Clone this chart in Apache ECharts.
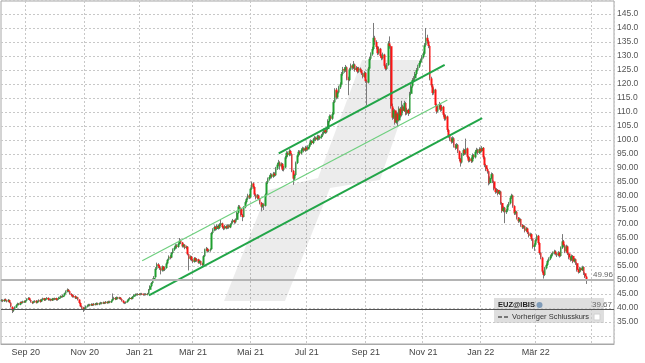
<!DOCTYPE html>
<html><head><meta charset="utf-8">
<script src="https://cdn.jsdelivr.net/npm/echarts@6/dist/echarts.min.js"></script>
<style>html,body{margin:0;padding:0;background:#fff}#c{width:645px;height:363px}</style>
</head><body><div id="c"></div>
<script>
// ---- data (EUZ@IBIS daily) ----
const opens=[
42.6,42.9,42.4,43.1,42.6,42.3,42.8,41.9,40.4,39.1,
39.7,40.2,41.1,41.6,41.2,42.1,41.8,42.4,42.0,42.7,
43.2,43.6,42.9,42.1,41.9,42.2,42.6,41.9,42.4,42.9,
42.3,43.0,43.5,42.8,43.3,43.6,42.9,43.2,42.7,43.4,
43.0,43.5,42.9,43.2,43.8,44.2,43.9,44.5,45.2,45.9,
46.5,46.0,45.0,44.6,44.0,44.3,43.5,43.8,43.0,41.8,
40.6,40.1,39.5,39.9,40.6,40.8,41.2,40.9,41.4,41.0,
41.5,41.2,41.7,41.3,41.6,41.9,41.6,42.0,41.7,42.2,
41.8,42.3,42.0,42.6,43.2,43.6,43.1,43.8,43.4,43.7,
43.2,42.6,42.0,41.8,42.1,42.6,43.2,43.6,43.3,44.0,
44.6,44.9,44.7,45.0,44.8,45.1,44.9,44.7,45.0,44.8,
45.1,46.5,47.8,48.9,50.2,51.0,54.0,55.6,55.0,54.2,
53.4,54.8,53.6,54.3,55.9,57.2,58.3,58.0,59.6,60.8,
61.5,62.3,61.8,62.9,64.0,63.4,62.0,62.6,61.4,61.9,
59.2,57.6,58.4,57.2,56.5,57.8,56.9,57.4,56.2,56.8,
55.8,55.4,58.5,60.8,61.2,60.3,60.6,61.0,66.8,67.9,
68.9,68.2,69.4,68.6,69.8,70.2,68.9,68.4,69.2,68.6,
69.5,68.8,69.9,70.8,71.3,70.6,71.5,74.0,76.2,75.5,
73.2,72.5,76.0,77.8,79.0,80.2,79.5,82.6,84.5,83.2,
80.5,79.4,80.2,79.0,77.6,76.2,77.0,76.5,80.5,84.8,
86.0,86.8,87.6,86.9,88.0,87.4,89.8,91.2,92.0,90.6,
91.5,89.4,90.2,93.8,95.4,94.6,96.1,95.0,89.0,86.2,
87.5,91.8,94.5,95.8,95.2,96.4,97.0,96.2,97.3,96.6,
97.5,98.4,99.6,98.9,100.2,100.8,100.2,101.3,100.6,101.0,
101.6,102.4,103.5,102.8,103.9,106.8,108.5,107.6,109.2,113.5,
118.0,115.2,117.0,118.8,119.9,123.6,125.4,124.8,126.0,122.0,
121.4,125.2,126.6,125.8,127.0,125.0,125.8,124.4,125.5,124.9,
123.8,122.6,124.0,121.0,120.5,125.5,129.0,130.6,132.5,136.5,
135.0,133.2,131.0,132.6,130.0,129.2,130.5,126.5,125.4,126.8,
134.5,133.5,112.0,108.0,110.6,106.2,109.4,107.0,111.2,108.8,
112.0,110.4,113.2,109.5,110.8,109.6,116.5,119.2,121.4,122.0,
123.6,125.0,126.2,127.5,128.4,129.6,130.8,133.8,136.5,135.2,
133.6,122.0,119.5,116.8,118.0,112.5,110.2,111.6,112.4,110.8,
111.9,109.0,107.6,108.4,103.6,101.5,100.4,99.4,100.6,98.0,
97.2,98.3,96.0,93.2,92.0,94.8,96.4,95.2,97.0,94.0,
92.6,93.4,92.4,94.6,93.8,95.8,96.5,95.4,96.8,96.0,
97.2,93.8,91.0,89.6,88.8,84.6,86.4,87.8,85.2,82.6,
81.4,82.2,80.8,81.6,77.5,74.6,75.8,74.2,74.8,76.6,
77.4,79.4,80.2,76.4,73.8,74.4,72.2,71.0,71.8,69.6,
68.8,69.2,67.6,68.4,67.0,65.8,66.4,64.6,61.8,62.6,
64.2,65.8,63.2,59.6,58.0,53.0,51.8,54.2,55.4,56.8,
57.6,58.4,59.2,59.6,60.2,59.4,58.8,59.8,58.6,61.5,
63.8,62.4,60.2,62.0,59.5,58.0,57.2,58.6,56.6,57.4,
56.0,53.6,52.8,54.2,53.5,54.6,52.4,51.2];
const closes=[
42.8,42.5,43.0,42.7,42.4,42.9,42.0,40.5,39.2,39.6,
40.3,41.0,41.5,41.2,42.0,41.8,42.3,42.1,42.6,43.2,
43.5,42.9,42.2,41.8,42.3,42.5,41.9,42.4,42.8,42.2,
43.0,43.4,42.8,43.3,43.6,42.9,43.1,42.7,43.4,43.0,
43.5,42.9,43.2,43.8,44.2,43.9,44.5,45.2,45.9,46.5,
46.0,45.0,44.6,44.0,44.3,43.5,43.8,43.0,41.8,40.6,
40.1,39.5,39.9,40.6,40.8,41.2,40.9,41.4,41.0,41.5,
41.2,41.7,41.3,41.6,41.9,41.6,42.0,41.7,42.2,41.8,
42.3,42.0,42.5,43.2,43.6,43.1,43.8,43.4,43.7,43.2,
42.6,42.0,41.8,42.1,42.6,43.2,43.6,43.3,44.0,44.6,
44.9,44.7,45.0,44.8,45.1,44.9,44.7,45.0,44.8,45.1,
46.5,47.8,48.9,50.2,50.8,54.0,55.6,55.0,54.2,53.4,
54.8,53.6,54.3,55.9,57.2,58.3,58.0,59.6,60.8,61.5,
62.3,61.8,62.9,64.0,63.4,62.0,62.6,61.4,61.9,59.2,
57.6,58.4,57.2,56.5,57.8,56.9,57.4,56.2,56.8,55.8,
55.4,58.5,60.8,61.2,60.3,60.6,60.9,66.8,67.9,68.9,
68.2,69.4,68.6,69.8,70.2,68.9,68.4,69.2,68.6,69.5,
68.8,69.9,70.8,71.3,70.6,71.5,74.0,76.2,75.5,73.2,
72.5,76.0,77.8,79.0,80.2,79.5,82.6,84.5,83.2,80.5,
79.4,80.2,79.0,77.6,76.2,77.0,76.5,80.5,84.8,86.0,
86.8,87.6,86.9,88.0,87.4,89.8,91.2,92.0,90.6,91.5,
89.4,90.2,93.8,95.4,94.6,96.1,95.0,89.0,86.2,87.5,
91.8,94.5,95.8,95.2,96.4,97.0,96.2,97.3,96.6,97.5,
98.4,99.6,98.9,100.2,100.8,100.2,101.3,100.6,101.0,101.6,
102.4,103.5,102.8,103.9,106.8,108.5,107.6,109.2,113.5,117.8,
115.2,117.0,118.8,119.9,123.6,125.4,124.8,126.0,122.0,121.4,
125.2,126.6,125.8,127.0,125.0,125.8,124.4,125.5,124.9,123.8,
122.6,124.0,121.0,120.5,125.5,129.0,130.6,132.5,136.5,135.0,
133.2,131.0,132.6,130.0,129.2,130.5,126.5,125.4,126.8,134.5,
133.5,112.0,108.0,110.6,106.2,109.4,107.0,111.2,108.8,112.0,
110.4,113.2,109.5,110.8,109.6,116.5,119.2,121.4,122.0,123.6,
125.0,126.2,127.5,128.4,129.6,130.8,133.8,136.5,135.2,133.6,
122.0,119.5,116.8,118.0,112.5,110.2,111.6,112.4,110.8,111.9,
109.0,107.6,108.4,103.6,101.5,100.4,99.4,100.6,98.0,97.2,
98.3,96.0,93.2,92.0,94.8,96.4,95.2,97.0,94.0,92.6,
93.4,92.4,94.6,93.8,95.8,96.5,95.4,96.8,96.0,97.2,
93.8,91.0,89.6,88.8,84.6,86.4,87.8,85.2,82.6,81.4,
82.2,80.8,81.6,77.5,74.6,75.8,74.2,74.8,76.6,77.4,
79.4,80.2,76.4,73.8,74.4,72.2,71.0,71.8,69.6,68.8,
69.2,67.6,68.4,67.0,65.8,66.4,64.6,61.8,62.6,64.2,
65.8,63.2,59.6,58.0,53.0,51.8,54.2,55.4,56.8,57.6,
58.4,59.2,59.6,60.2,59.4,58.8,59.8,58.6,61.5,63.8,
62.4,60.2,62.0,59.5,58.0,57.2,58.6,56.6,57.4,56.0,
53.6,52.8,54.2,53.5,54.6,52.4,51.2,49.96];
const lows=[
42.2,42.1,42.2,42.4,42.0,42.1,41.7,40.2,38.2,38.6,
39.3,40.0,40.8,40.9,41.0,41.5,41.6,41.8,41.9,42.5,
42.9,42.6,41.9,41.4,41.6,41.9,41.6,41.7,42.1,41.9,
42.1,42.7,42.5,42.6,43.0,42.6,42.6,42.4,42.5,42.7,
42.8,42.6,42.6,43.0,43.5,43.6,43.7,44.3,45.0,45.6,
45.6,44.8,44.2,43.7,43.7,43.2,43.2,42.7,41.5,40.3,
39.6,38.6,39.1,39.6,40.2,40.5,40.6,40.7,40.7,40.8,
40.9,41.0,41.0,41.0,41.3,41.3,41.4,41.4,41.5,41.5,
41.6,41.7,41.8,42.4,42.9,42.8,42.9,43.1,43.1,42.9,
42.3,41.6,41.4,41.5,41.9,42.4,43.0,43.0,43.1,43.8,
44.3,44.4,44.4,44.5,44.5,44.6,44.4,44.4,44.5,44.5,
45.0,46.3,47.5,48.6,49.8,50.8,53.6,54.3,53.6,52.0,
53.0,53.1,53.2,54.0,55.6,56.9,57.4,57.8,59.2,60.4,
61.1,61.2,61.5,62.6,62.8,61.6,61.6,61.0,61.0,58.8,
53.4,57.0,56.7,56.0,56.2,56.4,56.5,55.8,55.8,55.2,
54.9,55.2,58.2,60.2,59.8,59.9,60.1,60.8,66.3,67.4,
67.6,67.8,68.0,68.2,69.2,68.4,67.8,68.0,68.1,68.2,
68.3,68.5,69.5,70.3,70.1,70.2,71.3,73.7,74.9,72.6,
71.0,72.3,75.6,77.3,78.6,78.9,79.2,82.2,82.6,80.0,
78.8,78.9,78.5,77.0,74.5,75.8,75.0,76.2,80.2,84.3,
85.5,86.3,86.3,86.5,86.9,87.1,89.3,90.6,89.4,90.1,
88.9,88.8,90.0,93.3,94.0,94.2,94.4,88.5,84.0,85.6,
87.2,91.4,94.0,94.6,94.8,95.9,95.6,95.8,96.0,96.2,
97.0,98.0,98.3,98.5,99.7,99.6,99.8,100.0,100.1,100.5,
101.1,102.0,102.2,102.4,103.6,106.3,107.0,107.2,108.9,113.2,
114.5,114.8,116.6,118.2,119.5,123.0,124.0,124.3,121.3,116.0,
121.0,124.7,125.1,125.3,124.4,124.5,123.8,124.0,124.3,123.2,
122.0,122.2,120.4,112.4,120.2,125.1,128.5,130.1,132.0,134.0,
132.4,130.3,130.5,129.4,128.5,128.7,125.9,124.8,125.0,126.5,
132.6,111.2,107.2,107.5,105.5,105.8,104.6,106.6,108.0,108.4,
109.6,110.0,108.8,109.0,108.6,109.3,116.0,118.7,120.8,121.5,
123.1,124.5,125.7,127.0,127.9,129.1,130.4,133.3,134.4,132.8,
121.3,118.8,116.0,116.2,111.8,109.4,109.8,110.9,110.1,110.3,
108.3,106.9,107.0,102.9,100.8,99.6,98.7,98.9,97.3,96.5,
96.8,95.3,92.5,90.5,91.6,94.3,94.6,94.8,93.4,92.0,
92.1,91.8,92.0,93.2,93.4,95.2,94.8,95.0,95.4,95.6,
93.1,90.3,88.9,88.0,83.8,84.2,86.0,84.6,82.0,80.8,
81.0,80.2,80.4,76.9,74.0,74.2,70.3,73.6,74.4,76.1,
77.0,78.9,75.8,73.2,73.3,71.6,70.4,70.6,69.0,68.2,
68.3,67.0,67.2,66.4,65.2,65.4,64.0,61.2,60.4,62.2,
63.8,62.6,59.0,57.4,52.4,50.5,51.4,53.8,55.0,56.3,
57.1,57.9,58.7,59.1,58.8,58.2,58.4,58.0,58.3,61.1,
61.8,59.6,59.8,58.9,57.4,56.6,56.8,56.0,56.2,55.4,
53.0,52.3,52.5,53.0,53.2,51.8,50.7,48.6];
const highs=[
43.2,43.1,43.3,43.4,42.9,43.2,43.0,42.1,40.6,40.0,
40.6,41.3,41.9,41.8,42.3,42.4,42.6,42.7,42.9,43.5,
43.9,43.8,43.1,42.4,42.6,42.8,42.8,42.7,43.1,43.1,
43.3,43.7,43.6,43.5,43.9,43.8,43.4,43.4,43.6,43.6,
43.7,43.7,43.5,44.0,44.5,44.4,44.8,45.5,46.3,47.0,
46.8,46.2,45.3,44.9,44.6,44.5,44.1,44.0,43.1,42.0,
40.9,40.4,40.3,40.9,41.2,41.5,41.5,41.7,41.6,41.8,
41.8,42.0,41.9,41.9,42.2,42.1,42.3,42.2,42.5,42.4,
42.6,42.6,42.8,45.2,44.0,43.9,44.1,44.0,44.0,43.9,
43.4,42.8,42.2,42.4,42.9,43.5,43.9,43.9,44.3,44.9,
45.2,45.2,45.3,45.3,45.4,45.4,45.2,45.3,45.3,45.4,
46.8,48.1,49.3,50.6,51.4,54.6,56.2,56.0,55.4,54.5,
55.2,55.0,54.8,56.3,57.6,58.8,58.9,60.0,61.3,62.0,
62.8,62.8,63.4,65.0,64.5,63.6,63.0,62.8,62.3,62.1,
59.4,58.8,58.6,57.5,58.2,58.1,57.8,57.6,57.2,57.0,
56.2,58.9,61.2,61.8,61.5,61.0,61.3,67.2,68.5,69.5,
69.3,69.9,69.8,70.3,71.7,70.5,69.3,69.7,69.6,69.9,
69.9,70.3,71.2,71.8,71.6,72.0,74.5,76.8,76.7,75.8,
73.6,76.4,78.3,79.5,80.8,80.7,83.1,85.2,84.9,83.5,
80.9,80.7,80.5,79.3,77.9,77.5,77.4,80.9,85.3,86.6,
87.4,88.2,88.0,88.6,88.5,90.4,91.8,92.9,92.4,92.0,
91.8,90.8,94.3,96.0,95.9,96.7,96.5,95.3,89.4,88.0,
92.3,95.0,96.4,96.3,97.0,97.6,97.4,97.9,97.7,98.1,
99.0,100.2,100.0,100.8,101.4,101.2,101.9,101.8,101.6,102.2,
103.0,104.1,104.0,104.5,107.4,109.1,109.0,109.9,114.2,118.5,
118.6,117.6,119.4,120.6,124.3,126.1,126.0,126.8,126.3,122.6,
125.8,127.3,127.0,128.2,127.3,126.4,126.1,126.1,125.9,125.2,
124.1,124.6,124.3,121.6,126.1,129.7,131.3,133.3,141.8,137.2,
135.6,133.6,133.4,132.9,130.6,131.2,130.8,127.0,127.5,135.3,
137.0,133.8,113.0,111.4,111.0,110.2,109.8,112.0,111.8,114.0,
112.6,114.0,113.6,111.5,111.2,117.2,119.9,122.1,122.8,124.3,
125.7,126.9,128.2,129.1,130.3,131.6,134.6,140.0,137.6,135.8,
134.0,122.6,120.0,118.8,118.3,113.0,112.4,113.6,113.0,112.6,
112.2,109.5,109.1,108.7,104.0,102.0,101.0,101.3,101.0,98.6,
98.9,98.6,96.3,93.6,95.4,97.0,96.8,100.5,97.3,94.4,
94.0,93.8,95.2,95.0,96.4,97.2,96.9,97.4,97.3,97.8,
97.5,94.2,91.5,90.1,89.0,87.0,88.4,88.2,85.5,83.0,
82.8,82.5,82.1,81.9,77.8,76.3,76.1,75.3,77.1,77.9,
79.9,80.8,80.5,76.7,74.9,74.7,72.5,72.3,72.0,70.0,
69.7,69.5,68.9,68.7,67.3,66.9,66.7,64.9,63.1,64.7,
66.3,66.1,63.5,59.9,58.3,53.4,54.7,55.9,57.3,58.1,
58.9,59.7,60.2,60.8,60.6,59.8,60.3,60.1,62.0,66.4,
64.3,62.8,62.6,62.3,59.8,58.4,59.1,58.9,57.9,57.7,
56.3,54.0,54.7,54.5,55.1,54.9,52.7,51.5];

// reference lines
const lastPrice = 49.96;
const prevClose = 39.67;
// trend lines: [start index, end index] and [start value, end value]
const trendLowerIdx = [110, 359], trendLowerVal = [44.5, 107.8];
const trendThinIdx  = [105, 333], trendThinVal  = [56.9, 114.3];
const trendUpperIdx = [207, 331], trendUpperVal = [95.2, 126.8];
// calendar
const firstDay = '2020-08-06';
const categoryCount = 458;
const holidays = ['2020-12-24','2020-12-25','2020-12-31','2021-01-01','2021-04-02','2021-04-05','2021-05-24','2021-12-24','2021-12-31','2022-04-15','2022-04-18'];
const monthNames = ['Jan','Feb','Mär','Apr','Mai','Jun','Jul','Aug','Sep','Okt','Nov','Dez'];

// ---- build ----
const dates = [];
(function(){
  let t = Date.parse(firstDay + 'T00:00:00Z');
  while (dates.length < categoryCount) {
    const d = new Date(t); const wd = d.getUTCDay(); const s = d.toISOString().slice(0,10);
    if (wd > 0 && wd < 6 && holidays.indexOf(s) < 0) dates.push(s);
    t += 86400000;
  }
})();
const tickIdx = new Set();
for (let i = 1; i < dates.length; i++) {
  const m = +dates[i].slice(5,7);
  if (m !== +dates[i-1].slice(5,7) && m % 2 === 1) tickIdx.add(i);
}
const ohlc = opens.map((o,i) => [o, closes[i], lows[i], highs[i]]);
const bodies = opens.map((o,i) => [o, closes[i], Math.min(o,closes[i]), Math.max(o,closes[i])]);
const seg = (idx, val) => [[dates[idx[0]], val[0]], [dates[idx[1]], val[1]]];

const FONT = '"Liberation Sans", Arial, sans-serif';
const chart = echarts.init(document.getElementById('c'), null, {renderer:'canvas'});
chart.setOption({
  animation: false,
  backgroundColor: '#fff',
  grid: [
    {left: 1, right: 31, top: -3.1, bottom: 27},
    {left: 1, right: 31, top: 1, bottom: 19, show: true, borderColor: '#a8a8a8', borderWidth: 1, backgroundColor: 'transparent'}
  ],
  xAxis: [
    {gridIndex: 0, type: 'category', data: dates, show: false, boundaryGap: true},
    {gridIndex: 1, type: 'category', data: dates, boundaryGap: true,
     axisLine: {show: true, lineStyle: {color: '#a8a8a8'}},
     axisTick: {show: false},
     axisLabel: {interval: (i) => tickIdx.has(i) && i < opens.length, margin: 4, fontSize: 9, color: '#444', fontFamily: FONT,
       formatter: (v) => monthNames[+v.slice(5,7)-1] + ' ' + v.slice(2,4)},
     splitLine: {show: true, interval: (i) => tickIdx.has(i), lineStyle: {color: '#c8c8c8', type: [2,2], width: 1}}}
  ],
  yAxis: [
    {gridIndex: 0, type: 'value', position: 'right', min: 30, max: 150, interval: 5,
     axisLine: {show: false}, axisTick: {show: false},
     axisLabel: {margin: 3, fontSize: 8.5, color: '#555', fontFamily: FONT,
       formatter: (v) => (v === 30 || v === 150) ? '' : v.toPrecision(4)},
     splitLine: {show: true, lineStyle: {color: '#c8c8c8', type: [2,2], width: 1}}},
    {gridIndex: 1, type: 'value', show: false, min: 0, max: 1}
  ],
  graphic: [
    {type: 'polygon', z: 1, silent: true,
     shape: {points: [[224,301],[285,301],[330,188],[380,180],[421,60],[362,60],[318,178],[268,190]]},
     style: {fill: 'rgba(0,0,0,0.075)'}},
    {type: 'group', z: 10, silent: true, children: [
      {type: 'rect', shape: {x: 494, y: 298, width: 110, height: 25}, style: {fill: 'rgba(218,218,218,0.88)'}},
      {type: 'text', x: 498, y: 305, style: {text: 'EUZ@IBIS', fontSize: 7.5, fontWeight: 'bold', fontFamily: FONT, fill: '#222', verticalAlign: 'middle'}},
      {type: 'circle', shape: {cx: 539.5, cy: 305, r: 3}, style: {fill: '#7f9bb8'}},
      {type: 'text', x: 612, y: 304.5, style: {text: '39.67', fontSize: 8, fontFamily: FONT, fill: '#666', align: 'right', verticalAlign: 'middle'}},
      {type: 'line', shape: {x1: 498, y1: 317, x2: 502, y2: 317}, style: {stroke: '#333', lineWidth: 1.2}},
      {type: 'line', shape: {x1: 504, y1: 317, x2: 508, y2: 317}, style: {stroke: '#333', lineWidth: 1.2}},
      {type: 'text', x: 512, y: 317, style: {text: 'Vorheriger Schlusskurs', fontSize: 7.5, fontFamily: FONT, fill: '#333', verticalAlign: 'middle'}},
      {type: 'rect', shape: {x: 594, y: 314, width: 6, height: 6}, style: {fill: '#fff', stroke: '#d0d0d0', lineWidth: 1}}
    ]}
  ],
  series: [
    {type: 'candlestick', name: 'wicks', xAxisIndex: 0, yAxisIndex: 0, data: ohlc, barWidth: 1, z: 2,
     itemStyle: {color: '#7a7a7a', color0: '#7a7a7a', borderColor: '#7a7a7a', borderColor0: '#7a7a7a', borderWidth: 1},
     markLine: {silent: true, symbol: 'none', animation: false,
       data: [
         {yAxis: lastPrice, lineStyle: {color: '#b4b4b4', width: 2, type: 'solid'},
          label: {show: true, position: 'insideEndTop', formatter: '49.96', fontSize: 8, color: '#666', fontFamily: FONT, distance: 1}},
         {yAxis: prevClose, lineStyle: {color: '#555', width: 1, type: 'solid'}, label: {show: false}}
       ]}},
    {type: 'candlestick', name: 'bodies', xAxisIndex: 0, yAxisIndex: 0, data: bodies, barWidth: 2.2, z: 3,
     itemStyle: {color: '#1f9f2f', color0: '#ff1414', borderColor: '#1f9f2f', borderColor0: '#ff1414', borderWidth: 0}},
    {type: 'line', xAxisIndex: 0, yAxisIndex: 0, data: seg(trendLowerIdx, trendLowerVal), showSymbol: false, z: 4,
     lineStyle: {color: '#22a548', width: 2}},
    {type: 'line', xAxisIndex: 0, yAxisIndex: 0, data: seg(trendThinIdx, trendThinVal), showSymbol: false, z: 4,
     lineStyle: {color: '#6fcf7f', width: 1.2}},
    {type: 'line', xAxisIndex: 0, yAxisIndex: 0, data: seg(trendUpperIdx, trendUpperVal), showSymbol: false, z: 4,
     lineStyle: {color: '#22a548', width: 2}}
  ]
});
</script>
</body></html>
